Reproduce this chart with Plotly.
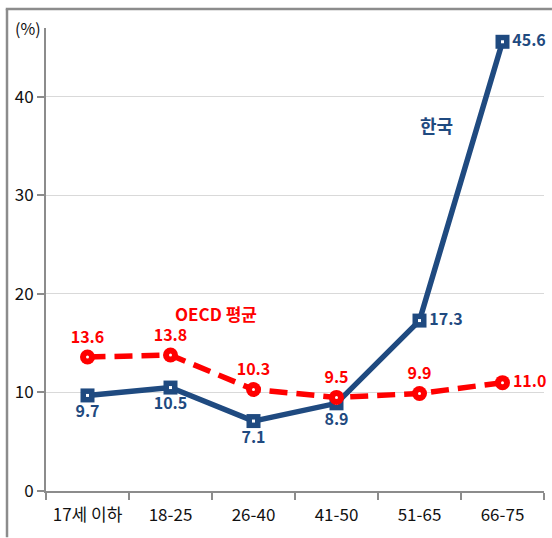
import plotly.graph_objects as go

categories = ["17세 이하", "18-25", "26-40", "41-50", "51-65", "66-75"]
korea = [9.7, 10.5, 7.1, 8.9, 17.3, 45.6]
oecd = [13.6, 13.8, 10.3, 9.5, 9.9, 11.0]
korea_pos = ["bottom center", "bottom center", "bottom center", "bottom center", "middle right", "middle right"]
oecd_pos = ["top center", "top center", "top center", "top center", "top center", "middle right"]
y_ticks = [0, 10, 20, 30, 40]

BLUE = "#1f4a80"
RED = "#ff0000"
FONT = "Noto Sans CJK KR"

fig = go.Figure()
fig.add_trace(go.Scatter(
    x=categories, y=korea, mode="lines+markers+text",
    line=dict(color=BLUE, width=5.5),
    marker=dict(symbol="square", size=14, color=BLUE),
    text=[f"{v:.1f}" for v in korea], textposition=korea_pos,
    textfont=dict(family=FONT, size=16, color=BLUE, weight="bold"),
    cliponaxis=False, showlegend=False))
fig.add_trace(go.Scatter(
    x=categories, y=korea, mode="markers",
    marker=dict(symbol="square", size=3, color="white"),
    cliponaxis=False, showlegend=False, hoverinfo="skip"))
fig.add_trace(go.Scatter(
    x=categories, y=oecd, mode="lines+markers+text",
    line=dict(color=RED, width=5.5, dash="18px,9px"),
    marker=dict(symbol="circle", size=15, color=RED),
    text=[f"{v:.1f}" for v in oecd], textposition=oecd_pos,
    textfont=dict(family=FONT, size=16, color=RED, weight="bold"),
    cliponaxis=False, showlegend=False))
fig.add_trace(go.Scatter(
    x=categories, y=oecd, mode="markers",
    marker=dict(symbol="circle", size=3, color="white"),
    cliponaxis=False, showlegend=False, hoverinfo="skip"))

fig.update_layout(
    width=552, height=538,
    margin=dict(l=46, r=8, t=28, b=47),
    plot_bgcolor="white", paper_bgcolor="white",
    font=dict(family=FONT, size=16, color="#222222"),
    xaxis=dict(type="category", tickson="boundaries", ticks="outside", ticklen=7,
               tickcolor="#8c8c8c", tickwidth=2, showline=True, linecolor="#8c8c8c",
               linewidth=2, showgrid=False, range=[-0.5, 5.5], ticklabelstandoff=8,
               tickfont=dict(family=FONT, size=17, color="#111111")),
    yaxis=dict(range=[0, 47], tickvals=y_ticks, ticks="outside", ticklen=7,
               tickcolor="#8c8c8c", tickwidth=2, showline=True, linecolor="#8c8c8c",
               linewidth=2, showgrid=True, gridcolor="#d9d9d9", gridwidth=1,
               zeroline=False, tickfont=dict(family=FONT, size=17, color="#111111")),
    shapes=[
        dict(type="line", xref="paper", yref="paper", x0=-0.0783, x1=-0.0783,
             y0=-0.1, y1=1.041, line=dict(color="#8c8c8c", width=2.5), layer="below"),
        dict(type="line", xref="paper", yref="paper", x0=-0.0808, x1=1.016,
             y0=1.041, y1=1.041, line=dict(color="#8c8c8c", width=2.5), layer="below"),
    ],
    annotations=[
        dict(text="(%)", xref="paper", yref="paper", x=-0.006, y=1.0, xanchor="right",
             yanchor="middle", showarrow=False, font=dict(family=FONT, size=16, color="#111111")),
        dict(text="<b>한국</b>", x=4.2, y=37.2, xref="x", yref="y", showarrow=False,
             font=dict(family=FONT, size=18, color=BLUE)),
        dict(text="<b>OECD 평균</b>", x=1.55, y=18.0, xref="x", yref="y", showarrow=False,
             font=dict(family=FONT, size=17, color=RED)),
    ],
)

fig.write_html("out.html")
